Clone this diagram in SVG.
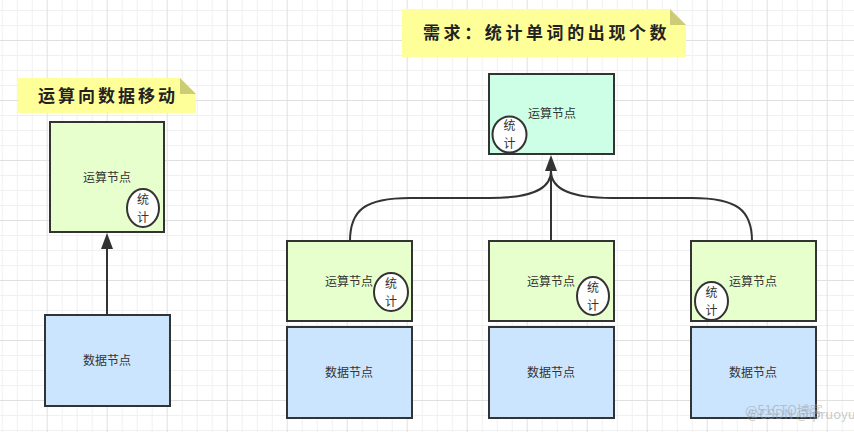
<svg xmlns="http://www.w3.org/2000/svg" width="854" height="432" viewBox="0 0 854 432">
<defs>
<pattern id="grid" x="-13.3" y="-20" width="60" height="60" patternUnits="userSpaceOnUse">
<path d="M15.5 0V60M30.5 0V60M45.5 0V60M0 15.5H60M0 30.5H60M0 45.5H60" stroke="#f0f0f0" stroke-width="1" fill="none"/>
<path d="M0.5 0V60M0 0.5H60" stroke="#e0e0e0" stroke-width="1" fill="none"/>
</pattern>
<marker id="arr" viewBox="0 0 16 12" refX="0" refY="6" markerWidth="16" markerHeight="12" markerUnits="userSpaceOnUse" orient="auto">
<path d="M16 6L0 0V12Z" fill="#333"/>
</marker>
<style>
.note{fill:#ffff99;}
.fold{fill:#cccc77;}
.title{font-family:"Noto Sans CJK SC","Noto Sans",sans-serif;font-size:17px;font-weight:bold;fill:#222;letter-spacing:3px;}
.comp{fill:#e6ffcc;stroke:#333;stroke-width:2;}
.comp2{fill:#ccffe6;stroke:#333;stroke-width:2;}
.data{fill:#cce5ff;stroke:#333;stroke-width:2;}
.lbl{font-family:"Noto Sans CJK SC","Noto Sans",sans-serif;font-size:12px;fill:#333;text-anchor:middle;}
.ell{fill:#fff;stroke:#333;stroke-width:2;}
.ltxt{font-family:"Noto Sans CJK SC","Noto Sans",sans-serif;font-size:12px;fill:#333;text-anchor:middle;}
.edge{fill:none;stroke:#333;stroke-width:2;}
.wm{font-family:"Noto Sans CJK SC","Liberation Sans",sans-serif;font-size:13px;fill:#999;opacity:0.5;}
</style>
</defs>
<rect width="854" height="432" fill="#fff"/>
<rect width="854" height="432" fill="url(#grid)"/>

<g id="note-left">
<path class="note" d="M18 78H180L196 94V113H18Z"/>
<path class="fold" d="M180 78L196 94H180Z"/>
<text class="title" x="38" y="102">运算向数据移动</text>
</g>

<g id="note-right">
<path class="note" d="M402 9H670L686 25V57H402Z"/>
<path class="fold" d="M670 9L686 25H670Z"/>
<text class="title" x="423" y="39" style="letter-spacing:3.6px">需求：统计单词的出现个数</text>
</g>

<g id="connectors">
<path class="edge" d="M107 315V249" marker-end="url(#arr)"/>
<path class="edge" d="M551 241V171" marker-end="url(#arr)"/>
<path class="edge" d="M350 241C350 210 365 198 410 198H490C530 198 551 190 551 171"/>
<path class="edge" d="M752 241C752 210 737 198 692 198H612C572 198 551 190 551 171"/>
</g>

<g id="comp-left">
<rect class="comp" x="50" y="122" width="114" height="110"/>
<text class="lbl" x="107" y="182">运算节点</text>
<ellipse class="ell" cx="143" cy="208" rx="16" ry="19"/>
<text class="ltxt" x="143" y="204">统</text>
<text class="ltxt" x="143" y="222">计</text>
</g>

<g id="data-left">
<rect class="data" x="45" y="315" width="125" height="91"/>
<text class="lbl" x="107" y="365">数据节点</text>
</g>

<g id="comp-top">
<rect class="comp2" x="489" y="74" width="125" height="80"/>
<text class="lbl" x="552" y="118">运算节点</text>
<ellipse class="ell" cx="509.5" cy="134.5" rx="17" ry="18"/>
<text class="ltxt" x="509.5" y="130">统</text>
<text class="ltxt" x="509.5" y="148">计</text>
</g>

<g id="comp-1">
<rect class="comp" x="287" y="241" width="125" height="80"/>
<text class="lbl" x="349" y="286">运算节点</text>
<ellipse class="ell" cx="391" cy="292" rx="17" ry="19"/>
<text class="ltxt" x="391" y="288">统</text>
<text class="ltxt" x="391" y="306">计</text>
</g>
<g id="data-1">
<rect class="data" x="287" y="327" width="125" height="91"/>
<text class="lbl" x="349" y="377">数据节点</text>
</g>

<g id="comp-2">
<rect class="comp" x="489" y="241" width="125" height="80"/>
<text class="lbl" x="551" y="286">运算节点</text>
<ellipse class="ell" cx="593" cy="296" rx="16" ry="19"/>
<text class="ltxt" x="593" y="292">统</text>
<text class="ltxt" x="593" y="310">计</text>
</g>
<g id="data-2">
<rect class="data" x="489" y="327" width="125" height="91"/>
<text class="lbl" x="551" y="377">数据节点</text>
</g>

<g id="comp-3">
<rect class="comp" x="691" y="241" width="125" height="80"/>
<text class="lbl" x="753" y="286">运算节点</text>
<ellipse class="ell" cx="711.5" cy="301" rx="16.5" ry="19"/>
<text class="ltxt" x="711.5" y="297">统</text>
<text class="ltxt" x="711.5" y="315">计</text>
</g>
<g id="data-3">
<rect class="data" x="691" y="327" width="125" height="91"/>
<text class="lbl" x="753" y="377">数据节点</text>
</g>

<g id="watermark">
<text class="wm" x="745" y="415">@51CTO博客</text>
<text class="wm" x="747" y="419">@CSDN @lpruoyu</text>
</g>
</svg>
